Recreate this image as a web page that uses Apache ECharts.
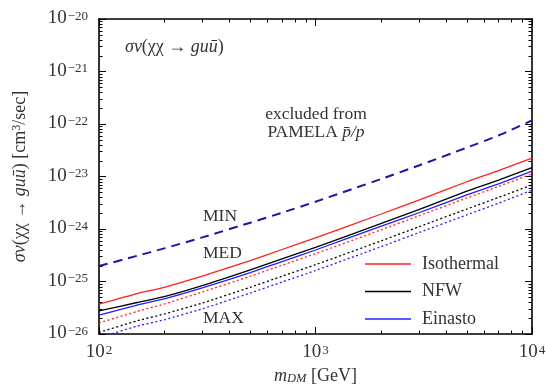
<!DOCTYPE html>
<html>
<head>
<meta charset="utf-8">
<script src="https://cdn.jsdelivr.net/npm/echarts@6/dist/echarts.min.js"></script>
<style>
  html, body { margin: 0; padding: 0; background: #fff; }
  #chart { width: 546px; height: 385px; }
</style>
</head>
<body>
<div id="chart"></div>
<script>
// Dark matter mass grid (GeV)
const massGeV = [100, 150, 200, 300, 500, 700, 1000, 2000, 3000, 5000, 7000, 10000];

// PAMELA antiproton/proton upper bound on sigma*v (cm^3/sec)
const pamelaBound = [1.97e-25, 3.09e-25, 4.27e-25, 6.92e-25, 1.32e-24, 2.04e-24, 3.31e-24, 8.91e-24, 1.62e-23, 3.55e-23, 6.03e-23, 1.17e-22];

// MED propagation, solid lines
const isothermalMed = [3.72e-26, 5.89e-26, 7.76e-26, 1.26e-25, 2.51e-25, 4.07e-25, 6.76e-25, 1.91e-24, 3.55e-24, 7.94e-24, 1.29e-23, 2.24e-23];
const nfwMed        = [2.75e-26, 3.98e-26, 5.13e-26, 8.32e-26, 1.66e-25, 2.69e-25, 4.47e-25, 1.26e-24, 2.34e-24, 5.25e-24, 8.51e-24, 1.48e-23];
const einastoMed    = [2.29e-26, 3.55e-26, 4.68e-26, 7.59e-26, 1.48e-25, 2.40e-25, 3.98e-25, 1.12e-24, 2.04e-24, 4.47e-24, 7.24e-24, 1.26e-23];

// MAX propagation, dotted lines
const isothermalMax = [1.62e-26, 2.69e-26, 3.72e-26, 6.31e-26, 1.26e-25, 2.04e-25, 3.39e-25, 9.55e-25, 1.78e-24, 3.89e-24, 6.46e-24, 1.12e-23];
const nfwMax        = [1.07e-26, 1.78e-26, 2.40e-26, 3.89e-26, 7.76e-26, 1.26e-25, 2.09e-25, 5.89e-25, 1.10e-24, 2.40e-24, 3.98e-24, 6.92e-24];
const einastoMax    = [8.50e-27, 1.41e-26, 1.86e-26, 3.02e-26, 6.03e-26, 9.77e-26, 1.62e-25, 4.57e-25, 8.51e-25, 1.86e-24, 3.09e-24, 5.50e-24];

// Axis ranges and decade ticks
const xRange = [100, 10000];
const yRange = [1e-26, 1e-20];
const xDecades = [100, 1000];
const yDecades = [1e-26, 1e-25, 1e-24, 1e-23, 1e-22, 1e-21];

// The y axis runs in units of 1e-26 cm^3/sec so the log scale stays well conditioned
const Y_UNIT = 1e-26;
const Y_UNIT_EXP = -26;
const toUnit = v => v / Y_UNIT;

const SERIF = "'Liberation Serif', 'DejaVu Serif', serif";
const INK = '#333';
const RED = '#ff2020';
const BLUE = '#2020ff';
const NAVY = '#1a16a8';

const pairs = ys => massGeV.map((m, i) => [m, toUnit(ys[i])]);

const powRich = {
  b: { fontFamily: SERIF, fontSize: 19, color: INK, lineHeight: 18, verticalAlign: 'bottom' },
  s: { fontFamily: SERIF, fontSize: 13, color: INK, lineHeight: 13, verticalAlign: 'top', padding: [0, 0, 9, 1] }
};
const powText = e => '{b|10}{s|' + (e < 0 ? '\u2212' + (-e) : e) + '}';
const xLabel = v => powText(Math.round(Math.log10(v)));
const yLabel = v => powText(Math.round(Math.log10(v)) + Y_UNIT_EXP);

function lineSeries(name, ys, color, type, width) {
  return {
    name, type: 'line', data: pairs(ys), showSymbol: false, symbol: 'none',
    smooth: 0.2, clip: true, silent: true,
    lineStyle: { color, width, type }, itemStyle: { color }
  };
}

const chart = echarts.init(document.getElementById('chart'), null, { renderer: 'canvas' });

const axisBase = () => ({
  type: 'log', logBase: 10,
  axisLine: { show: true, onZero: false, lineStyle: { color: '#000', width: 1.6 } },
  axisTick: { show: true, inside: true, length: 7, lineStyle: { color: '#000', width: 1 } },
  splitLine: { show: false },
  minorTick: { show: false }
});

chart.setOption({
  animation: false,
  backgroundColor: '#fff',
  textStyle: { fontFamily: SERIF },
  grid: { left: 99, right: 14, top: 19, bottom: 51, containLabel: false, outerBoundsMode: 'none' },
  legend: {
    data: ['Isothermal', 'NFW', 'Einasto'],
    orient: 'vertical', left: 365, top: 255, padding: 0,
    itemWidth: 46, itemHeight: 1.5, itemGap: 9.5,
    icon: 'rect',
    textStyle: { fontFamily: SERIF, fontSize: 18, color: INK, lineHeight: 17, padding: [0, 0, 0, 6] }
  },
  xAxis: [
    Object.assign(axisBase(), {
      min: xRange[0], max: xRange[1], position: 'bottom',
      axisLabel: { formatter: xLabel, rich: powRich, margin: 10 },
      name: '{i|m}{sub|DM} [GeV]', nameLocation: 'middle', nameGap: 33, nameMoveOverlap: false,
      nameTextStyle: {
        fontFamily: SERIF, fontSize: 18, color: INK,
        rich: {
          i: { fontFamily: SERIF, fontStyle: 'italic', fontSize: 18, color: INK, lineHeight: 18, verticalAlign: 'top' },
          sub: { fontFamily: SERIF, fontStyle: 'italic', fontSize: 12.5, color: INK, lineHeight: 12, verticalAlign: 'bottom', padding: [9, 0, 0, 0] }
        }
      }
    }),
    Object.assign(axisBase(), {
      min: xRange[0], max: xRange[1], position: 'top',
      axisLabel: { show: false }
    })
  ],
  yAxis: [
    Object.assign(axisBase(), {
      min: toUnit(yRange[0]), max: toUnit(yRange[1]), position: 'left',
      axisLabel: { formatter: yLabel, rich: powRich, margin: 11 },
      name: '{i|\u03c3v}(\u03c7\u03c7 \u2192 {i|gu\u016b}) [cm{sup|3}/sec]',
      nameLocation: 'middle', nameRotate: 90, nameGap: 70, nameMoveOverlap: false,
      nameTextStyle: {
        fontFamily: SERIF, fontSize: 18, color: INK,
        rich: {
          i: { fontFamily: SERIF, fontStyle: 'italic', fontSize: 18, color: INK },
          sup: { fontFamily: SERIF, fontSize: 12, color: INK, verticalAlign: 'top', lineHeight: 10, padding: [0, 0, 8, 0] }
        }
      }
    }),
    Object.assign(axisBase(), {
      min: toUnit(yRange[0]), max: toUnit(yRange[1]), position: 'right',
      axisLabel: { show: false }
    })
  ],
  series: [
    lineSeries('PAMELA', pamelaBound, NAVY, [9, 6], 2),
    lineSeries('Isothermal', isothermalMed, RED, 'solid', 1.3),
    lineSeries('NFW', nfwMed, '#000', 'solid', 1.3),
    lineSeries('Einasto', einastoMed, BLUE, 'solid', 1.3),
    lineSeries('Isothermal MAX', isothermalMax, RED, [2, 2.5], 1.3),
    lineSeries('NFW MAX', nfwMax, '#000', [2, 2.5], 1.3),
    lineSeries('Einasto MAX', einastoMax, BLUE, [2, 2.5], 1.3)
  ]
});

// Logarithmic minor ticks on all four sides, placed through the axis scales
function minorTicks() {
  const px = m => chart.convertToPixel({ xAxisIndex: 0 }, m);
  const py = v => chart.convertToPixel({ yAxisIndex: 0 }, toUnit(v));
  const x0 = px(xRange[0]), x1 = px(xRange[1]);
  const y0 = py(yRange[0]), y1 = py(yRange[1]);
  const len = 3.5;
  const els = [];
  const seg = (a, b, c, d) => els.push({
    type: 'line', silent: true,
    shape: { x1: a, y1: b, x2: c, y2: d },
    style: { stroke: '#000', lineWidth: 1 }
  });
  xDecades.forEach(d => {
    for (let k = 2; k <= 9; k++) {
      const x = Math.round(px(k * d)) + 0.5;
      seg(x, y0, x, y0 - len);
      seg(x, y1, x, y1 + len);
    }
  });
  yDecades.forEach(d => {
    for (let k = 2; k <= 9; k++) {
      const y = Math.round(py(k * d)) + 0.5;
      seg(x0, y, x0 + len, y);
      seg(x1, y, x1 - len, y);
    }
  });
  return els;
}

const annotFont = 17.5;
const annotStyle = { fontFamily: SERIF, fontSize: annotFont, fill: INK };
chart.setOption({
  graphic: minorTicks().concat([
    {
      type: 'text', x: 125, y: 47, silent: true,
      style: {
        text: '{i|\u03c3v}(\u03c7\u03c7 \u2192 {i|gu\u016b})', verticalAlign: 'middle',
        font: '18px ' + SERIF, fill: INK,
        rich: { i: { fontFamily: SERIF, fontStyle: 'italic', fontSize: 18, fill: INK } }
      }
    },
    { type: 'text', x: 316, y: 114, silent: true, style: Object.assign({ text: 'excluded from', align: 'center', verticalAlign: 'middle' }, annotStyle) },
    {
      type: 'text', x: 316, y: 132, silent: true,
      style: {
        text: 'PAMELA {i|p\u0304/p}', align: 'center', verticalAlign: 'middle',
        font: annotFont + 'px ' + SERIF, fill: INK,
        rich: { i: { fontFamily: SERIF, fontStyle: 'italic', fontSize: annotFont, fill: INK } }
      }
    },
    { type: 'text', x: 203, y: 216, silent: true, style: Object.assign({ text: 'MIN', verticalAlign: 'middle' }, annotStyle) },
    { type: 'text', x: 203, y: 253, silent: true, style: Object.assign({ text: 'MED', verticalAlign: 'middle' }, annotStyle) },
    { type: 'text', x: 203, y: 318, silent: true, style: Object.assign({ text: 'MAX', verticalAlign: 'middle' }, annotStyle) }
  ])
});
</script>
</body>
</html>
